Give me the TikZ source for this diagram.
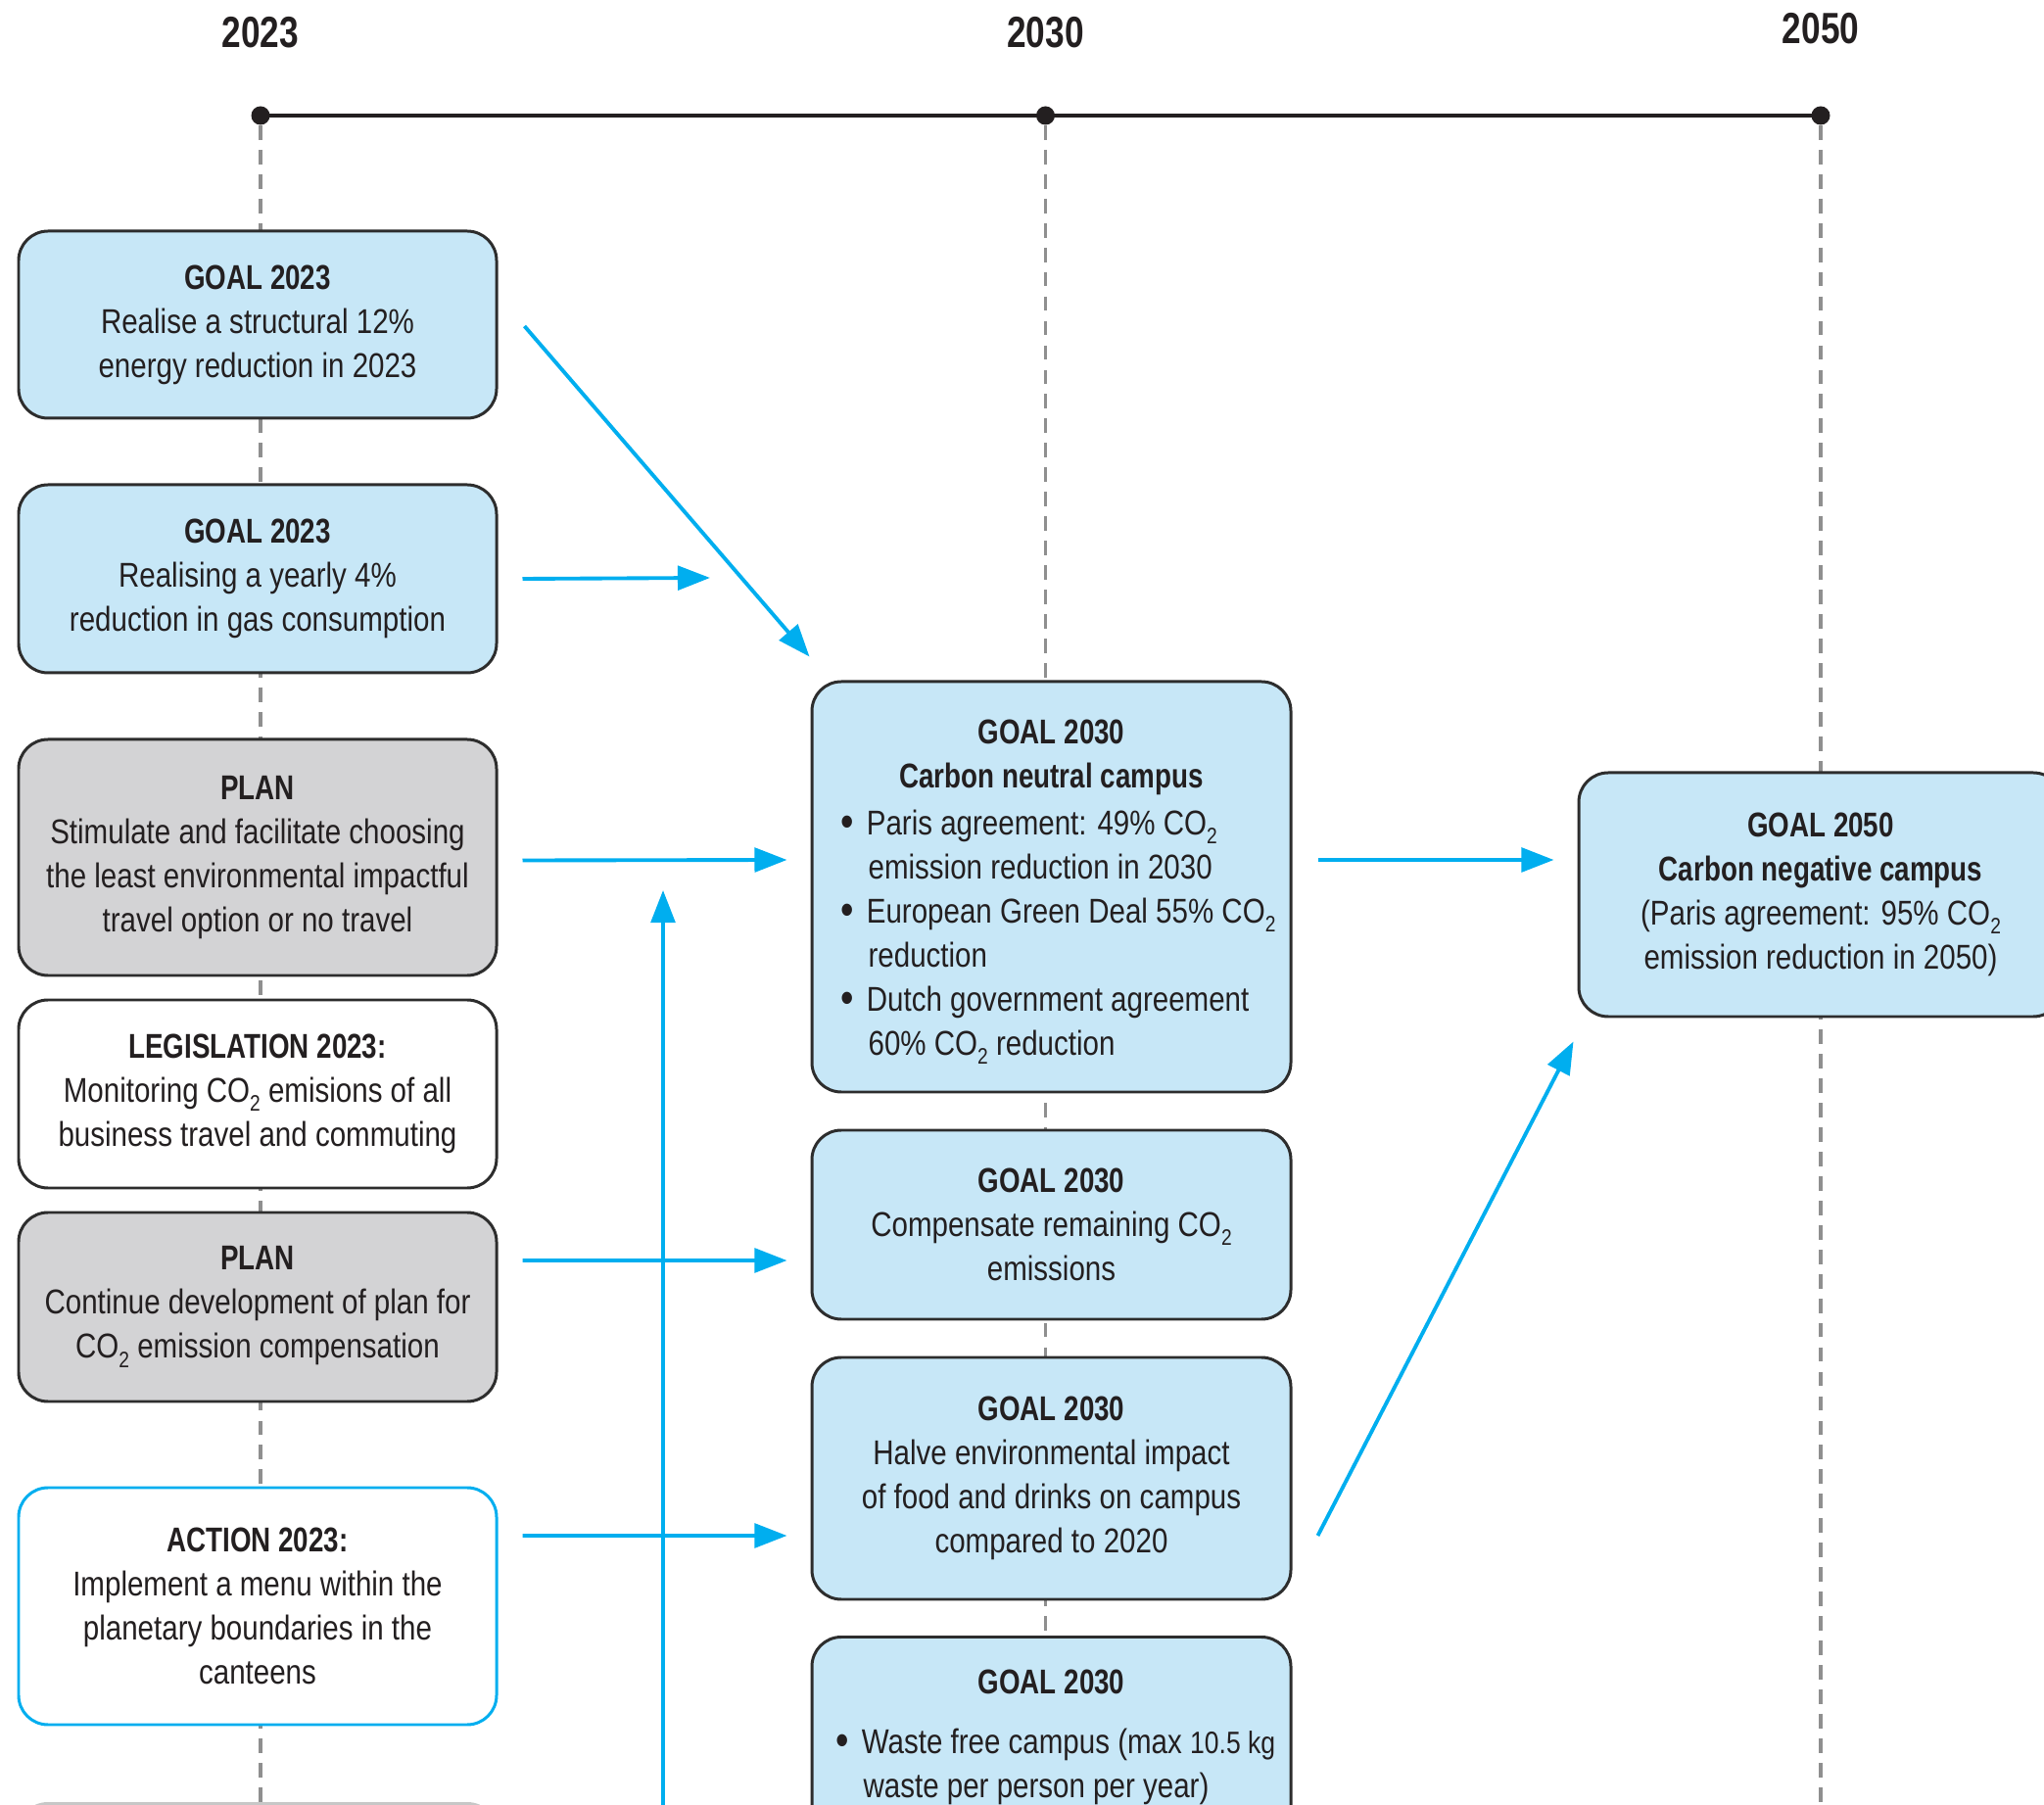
\documentclass[tikz,border=0pt]{standalone}
\usepackage{fontspec}
\setmainfont{Liberation Sans}[FakeStretch=0.84, BoldFeatures={FakeStretch=0.79}]
\usetikzlibrary{arrows.meta,calc}
\definecolor{lblue}{HTML}{C7E7F7}
\definecolor{lgray}{HTML}{D3D3D5}
\definecolor{ablue}{HTML}{00AEEF}
\definecolor{bline}{HTML}{2D2D2D}
\definecolor{txt}{HTML}{231F20}
\definecolor{dgray}{HTML}{8F8F8F}
\newcommand{\cotwo}{CO\raisebox{-0.5ex}{\fontsize{6.5}{7}\selectfont 2}}
\newcommand{\bl}{\makebox[7.5pt][l]{\raisebox{-0.1ex}{\fontsize{13}{13}\selectfont\textbullet}}}
\newcommand{\ind}{\hspace*{8pt}}
\tikzset{
  box/.style={rounded corners=0.3cm, draw=bline, line width=0.85pt, minimum width=4.88cm,
    align=center, inner sep=2pt, text=txt, font=\fontsize{10}{12.8}\selectfont},
  bluebox/.style={box, fill=lblue},
  graybox/.style={box, fill=lgray},
  whitebox/.style={box, fill=white},
  actbox/.style={box, fill=white, draw=ablue},
  arr/.style={draw=ablue, line width=1.1pt, -{Triangle[length=9.4pt,width=7pt]}},
  vdash/.style={draw=dgray, line width=1.1pt, dash pattern=on 4.2pt off 2.9pt},
  year/.style={font=\fontsize{12.7}{14}\selectfont\bfseries, text=txt},
}
\begin{document}
\begin{tikzpicture}
\useasboundingbox (0,0) rectangle (20.87,-18.43);
\clip (0,0) rectangle (20.87,-18.43);
% timeline
\coordinate (t23) at (2.66,-1.18);
\coordinate (t30) at (10.675,-1.18);
\coordinate (t50) at (18.59,-1.18);
\coordinate (d23) at (2.66,-18.6);
\coordinate (d30) at (10.675,-18.6);
\coordinate (d50) at (18.59,-18.6);
\draw[vdash] ([yshift=-0.1cm]t23) -- (d23);
\draw[vdash] ([yshift=-0.1cm]t30) -- (d30);
\draw[vdash] ([yshift=-0.1cm]t50) -- (d50);
\draw[line width=1.2pt, draw=txt] (t23) -- (t30) -- (t50);
\fill[txt] (t23) circle (0.095) (t30) circle (0.095) (t50) circle (0.095);
\node[year] (y23) at (2.66,-0.33) {2023};
\node[year] (y30) at (10.675,-0.33) {2030};
\node[year] (y50) at (18.59,-0.29) {2050};

% left column
\node[bluebox, minimum height=1.91cm] (b1) at (2.63,-3.315)
  {\textbf{GOAL 2023}\\Realise a structural 12\%\\energy reduction in 2023};
\node[bluebox, minimum height=1.92cm] (b2) at (2.63,-5.91)
  {\textbf{GOAL 2023}\\Realising a yearly 4\%\\reduction in gas consumption};
\node[graybox, minimum height=2.41cm] (b3) at (2.63,-8.755)
  {\textbf{PLAN}\\Stimulate and facilitate choosing\\the least environmental impactful\\travel option or no travel};
\node[whitebox, minimum height=1.92cm] (b4) at (2.63,-11.17)
  {\textbf{LEGISLATION 2023:}\\Monitoring \cotwo{} emisions of all\\business travel and commuting};
\node[graybox, minimum height=1.93cm] (b5) at (2.63,-13.345)
  {\textbf{PLAN}\\Continue development of plan for\\\cotwo{} emission compensation};
\node[actbox, minimum height=2.42cm] (b6) at (2.63,-16.40)
  {\textbf{ACTION 2023:}\\Implement a menu within the\\planetary boundaries in the\\canteens};
\node[box, draw=black!22, minimum height=1cm, anchor=north] (b7) at (2.63,-18.40) {};

% middle column
\node[bluebox, minimum width=4.89cm, minimum height=4.19cm] (c1) at (10.735,-9.055)
  {\begin{minipage}{4.3cm}
   \vspace{3pt}
   {\centering\textbf{GOAL 2030}\\\textbf{Carbon neutral campus}\par}
   \vspace{1pt}\raggedright
   \mbox{\bl Paris agreement: 49\% \cotwo}\\
   \mbox{\ind emission reduction in 2030}\\
   \mbox{\bl European Green Deal 55\% \cotwo}\\
   \mbox{\ind reduction}\\
   \mbox{\bl Dutch government agreement}\\
   \mbox{\ind 60\% \cotwo{} reduction}
   \end{minipage}};
\node[bluebox, minimum width=4.89cm, minimum height=1.93cm] (c2) at (10.735,-12.505)
  {\textbf{GOAL 2030}\\Compensate remaining \cotwo\\emissions};
\node[bluebox, minimum width=4.89cm, minimum height=2.47cm] (c3) at (10.735,-15.095)
  {\textbf{GOAL 2030}\\Halve environmental impact\\of food and drinks on campus\\compared to 2020};
\node[bluebox, minimum width=4.89cm, minimum height=2.05cm, anchor=north] (c4) at (10.735,-16.70)
  {\begin{minipage}{4.4cm}
   {\centering\textbf{GOAL 2030}\par}
   \vspace{4.5pt}\raggedright
   \mbox{\bl Waste free campus (max {\fontsize{9}{11}\selectfont 10.5 kg}}\\
   \mbox{\ind waste per person per year)}
   \end{minipage}};

% right
\node[bluebox, minimum width=4.94cm, minimum height=2.49cm] (r) at (18.59,-9.135)
  {\textbf{GOAL 2050}\\\textbf{Carbon negative campus}\\(Paris agreement: 95\% \cotwo\\emission reduction in 2050)};

% arrows
\coordinate (a2end) at (7.25,-5.90);
\coordinate (vb) at (6.77,-18.6);
\coordinate (vt) at (6.77,-9.09);
\draw[arr] ($(b1.east)+(0.27,-0.015)$) -- ($(c1.north west)+(-0.01,0.24)$);
\draw[arr] ($(b2.east)+(0.25,0)$) -- (a2end);
\draw[arr] ($(b3.east)+(0.25,-0.03)$) -- ($(c1.west)+(-0.24,0.275)$);
\draw[arr] (vb) -- (vt);
\draw[arr] ($(b5.east)+(0.25,0.475)$) -- ($(c2.west)+(-0.24,-0.365)$);
\draw[arr] ($(b6.east)+(0.25,0.72)$) -- ($(c3.west)+(-0.24,-0.585)$);
\draw[arr] ($(c1.east)+(0.26,0.275)$) -- ($(r.west)+(-0.24,0.355)$);
\draw[arr] ($(c3.east)+(0.26,-0.585)$) -- ($(r.south west)+(-0.04,-0.24)$);
\end{tikzpicture}
\end{document}
